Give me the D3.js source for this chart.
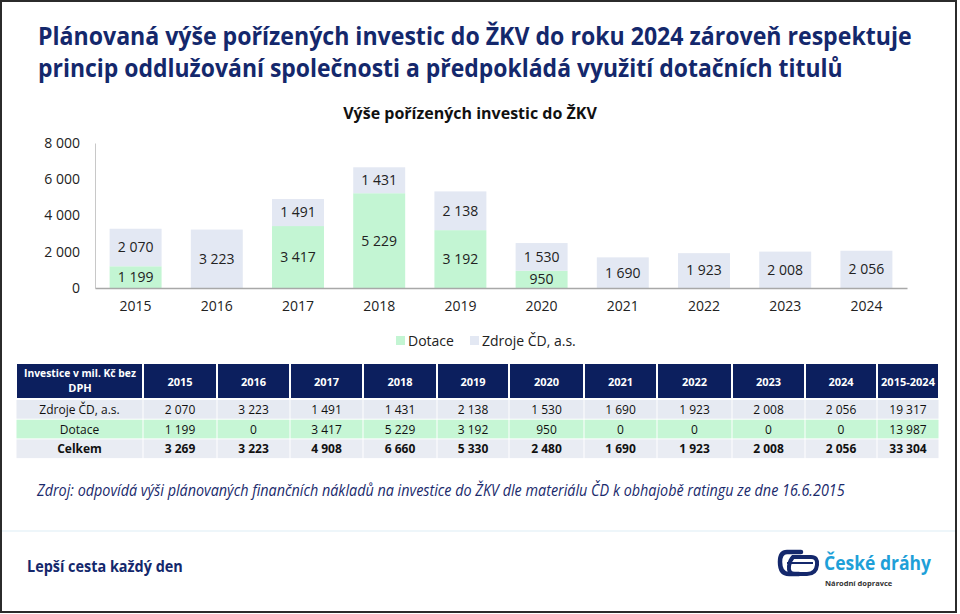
<!DOCTYPE html>
<html>
<head>
<meta charset="utf-8">
<script src="https://cdn.jsdelivr.net/npm/d3@7"></script>
<style>
  body { margin: 0; background: #fff; }
  svg { display: block; font-family: "Open Sans", "Noto Sans", sans-serif; }
</style>
</head>
<body>
<div id="main"></div>
<script>
//data
const years = ['2015', '2016', '2017', '2018', '2019', '2020', '2021', '2022', '2023', '2024'];
const dotace = [1199, 0, 3417, 5229, 3192, 950, 0, 0, 0, 0];
const zdroje = [2070, 3223, 1491, 1431, 2138, 1530, 1690, 1923, 2008, 2056];
const celkem = [3269, 3223, 4908, 6660, 5330, 2480, 1690, 1923, 2008, 2056];
const sumCol = [19317, 13987, 33304];
const yTicks = [0, 2000, 4000, 6000, 8000];
const seriesNames = ['Dotace', 'Zdroje ČD, a.s.'];

//colors
const navy = '#14286c';
const green = '#c3f5d3';
const blue = '#e3e8f3';

const W = 960, H = 614;
const fmt = d3.formatLocale({decimal: ',', thousands: '\u00a0', grouping: [3], currency: ['', '']}).format(',d');

const svg = d3.select('#main')
  .append('svg')
  .attr('width', W)
  .attr('height', H);

svg.append('rect')
  .attr('x', 1).attr('y', 1)
  .attr('width', 955).attr('height', 611)
  .attr('fill', '#fff')
  .attr('stroke', '#2b2b2b')
  .attr('stroke-width', 2);

// squeeze a text horizontally to a given width (Calibri-like narrow look)
function squeeze(sel, x0, width) {
  sel.each(function () {
    const natural = this.getComputedTextLength();
    const k = width / natural;
    d3.select(this).attr('transform', `translate(${x0}, 0) scale(${k}, 1)`).attr('x', 0);
  });
}

//title
const titleLines = [
  {t: 'Plánovaná výše pořízených investic do ŽKV do roku 2024 zároveň respektuje', y: 45, len: 874},
  {t: 'princip oddlužování společnosti a předpokládá využití dotačních titulů', y: 77, len: 805}
];
svg.selectAll('.title')
  .data(titleLines)
  .enter()
  .append('text')
  .attr('class', 'title')
  .attr('y', d => d.y)
  .style('font-size', '25px')
  .style('font-weight', 'bold')
  .attr('fill', navy)
  .text(d => d.t)
  .each(function (d) { squeeze(d3.select(this), 38, d.len); });

//chart
const margin = {top: 143, left: 95};
const w = 812, h = 145;

const x = d3.scaleBand()
  .domain(years)
  .range([0, w])
  .paddingInner(0.36)
  .paddingOuter(0.18);

const y = d3.scaleLinear()
  .domain([0, 8000])
  .range([h, 0]);

const g = svg.append('g')
  .attr('transform', `translate(${margin.left}, ${margin.top})`);

svg.append('text')
  .attr('x', 470)
  .attr('y', 119)
  .attr('text-anchor', 'middle')
  .style('font-size', '16px')
  .style('font-weight', 'bold')
  .attr('fill', '#111')
  .text('Výše pořízených investic do ŽKV');

const yAxis = d3.axisLeft(y)
  .tickValues(yTicks)
  .tickSize(0)
  .tickPadding(15)
  .tickFormat(fmt);

g.append('g')
  .attr('class', 'axis')
  .call(yAxis)
  .call(a => a.select('.domain').attr('stroke', '#c8c8c8'))
  .selectAll('text')
  .style('font-size', '14px')
  .style('font-family', '"Open Sans", sans-serif')
  .attr('fill', '#222');

const stacked = years.map((yr, i) => ({year: yr, dot: dotace[i], zdr: zdroje[i]}));

// dotace segments
g.selectAll('.bar-dot')
  .data(stacked.filter(d => d.dot > 0))
  .enter()
  .append('rect')
  .attr('class', 'bar-dot')
  .attr('x', d => x(d.year))
  .attr('y', d => y(d.dot))
  .attr('width', x.bandwidth())
  .attr('height', d => h - y(d.dot))
  .attr('fill', green);

// zdroje segments
g.selectAll('.bar-zdr')
  .data(stacked)
  .enter()
  .append('rect')
  .attr('class', 'bar-zdr')
  .attr('x', d => x(d.year))
  .attr('y', d => y(d.dot + d.zdr))
  .attr('width', x.bandwidth())
  .attr('height', d => y(d.dot) - y(d.dot + d.zdr))
  .attr('fill', blue);

g.selectAll('.lbl-dot')
  .data(stacked.filter(d => d.dot > 0))
  .enter()
  .append('text')
  .attr('x', d => x(d.year) + x.bandwidth() / 2)
  .attr('y', d => (y(0) + y(d.dot)) / 2)
  .attr('dy', '0.35em')
  .attr('text-anchor', 'middle')
  .style('font-size', '14px')
  .attr('fill', '#222')
  .text(d => fmt(d.dot));

g.selectAll('.lbl-zdr')
  .data(stacked)
  .enter()
  .append('text')
  .attr('x', d => x(d.year) + x.bandwidth() / 2)
  .attr('y', d => (y(d.dot) + y(d.dot + d.zdr)) / 2)
  .attr('dy', '0.35em')
  .attr('text-anchor', 'middle')
  .style('font-size', '14px')
  .attr('fill', '#222')
  .text(d => fmt(d.zdr));

const xAxis = d3.axisBottom(x).tickSize(0).tickPadding(13);
g.append('g')
  .attr('class', 'axis')
  .attr('transform', `translate(0, ${h})`)
  .call(xAxis)
  .call(a => a.select('.domain').attr('stroke', '#a8a8a8').attr('stroke-width', 1.5))
  .selectAll('text')
  .style('font-size', '14px')
  .style('font-family', '"Open Sans", sans-serif')
  .attr('fill', '#222');

//legend
const legend = svg.append('g').attr('transform', 'translate(396, 341)');
const legX = [0, 74];
legend.selectAll('rect')
  .data(seriesNames)
  .enter()
  .append('rect')
  .attr('x', (d, i) => legX[i])
  .attr('y', -5)
  .attr('width', 9)
  .attr('height', 9)
  .attr('fill', (d, i) => i === 0 ? green : blue);
legend.selectAll('text')
  .data(seriesNames)
  .enter()
  .append('text')
  .attr('x', (d, i) => legX[i] + 12)
  .attr('y', 0)
  .attr('dy', '0.35em')
  .style('font-size', '14px')
  .attr('fill', '#222')
  .text(d => d);

//table
const colX = [16, 143, 217, 290, 363, 437, 509, 584, 657, 732, 805, 877, 939];
const headY = 364, headH = 34, rowH = 19.7;
const tbl = svg.append('g');
const heads = ['', ...years, '2015-2024'];
tbl.selectAll('.th')
  .data(heads)
  .enter()
  .append('rect')
  .attr('x', (d, i) => colX[i] + 1)
  .attr('y', headY)
  .attr('width', (d, i) => colX[i + 1] - colX[i] - 2)
  .attr('height', headH)
  .attr('fill', '#0c1f5e');
tbl.selectAll('.tht')
  .data(heads.slice(1))
  .enter()
  .append('text')
  .attr('x', (d, i) => (colX[i + 1] + colX[i + 2]) / 2)
  .attr('y', headY + headH / 2 + 1)
  .attr('dy', '0.35em')
  .attr('text-anchor', 'middle')
  .style('font-size', '11px')
  .style('font-weight', 'bold')
  .attr('fill', '#fff')
  .text(d => d);
tbl.append('text')
  .attr('x', 80)
  .attr('y', headY + 13)
  .attr('text-anchor', 'middle')
  .attr('textLength', 112)
  .attr('lengthAdjust', 'spacingAndGlyphs')
  .style('font-size', '11px')
  .style('font-weight', 'bold')
  .attr('fill', '#fff')
  .text('Investice  v mil. Kč bez');
tbl.append('text')
  .attr('x', 80)
  .attr('y', headY + 28)
  .attr('text-anchor', 'middle')
  .style('font-size', '11px')
  .style('font-weight', 'bold')
  .attr('fill', '#fff')
  .text('DPH');

const rows = [
  {name: 'Zdroje ČD, a.s.', vals: zdroje, total: sumCol[0], fill: '#e6eaf2', bold: false},
  {name: 'Dotace', vals: dotace, total: sumCol[1], fill: '#c6f6d5', bold: false},
  {name: 'Celkem', vals: celkem, total: sumCol[2], fill: '#e9ecf3', bold: true}
];
rows.forEach((r, ri) => {
  const ry = headY + headH + 2 + ri * rowH;
  const cells = [r.name, ...r.vals.map(fmt), fmt(r.total)];
  tbl.selectAll(null)
    .data(cells)
    .enter()
    .append('rect')
    .attr('x', (d, i) => colX[i] + 0.5)
    .attr('y', ry)
    .attr('width', (d, i) => colX[i + 1] - colX[i] - 1)
    .attr('height', rowH - 1)
    .attr('fill', r.fill);
  tbl.selectAll(null)
    .data(cells)
    .enter()
    .append('text')
    .attr('x', (d, i) => (colX[i] + colX[i + 1]) / 2)
    .attr('y', ry + rowH / 2)
    .attr('dy', '0.35em')
    .attr('text-anchor', 'middle')
    .style('font-size', '12px')
    .style('font-weight', r.bold ? 'bold' : 'normal')
    .attr('fill', '#111')
    .text(d => d);
});

//source note
svg.append('text')
  .attr('y', 496)
  .style('font-size', '16px')
  .style('font-style', 'italic')
  .attr('fill', '#1a2a6c')
  .text('Zdroj: odpovídá výši plánovaných finančních nákladů na investice do ŽKV dle materiálu ČD k obhajobě ratingu ze dne 16.6.2015')
  .call(s => squeeze(s, 37, 808));

//footer
svg.append('line')
  .attr('x1', 2).attr('x2', 955)
  .attr('y1', 531).attr('y2', 531)
  .attr('stroke', '#eef6fa')
  .attr('stroke-width', 2);

svg.append('text')
  .attr('y', 572)
  .style('font-size', '16px')
  .style('font-weight', 'bold')
  .attr('fill', navy)
  .text('Lepší cesta každý den')
  .call(s => squeeze(s, 27, 156));

const logo = svg.append('g').attr('transform', 'translate(779, 550)');
logo.append('path')
  .attr('d', 'M22,2 H8 Q1,2 1,12 Q1,24 10,24 H20')
  .attr('fill', 'none')
  .attr('stroke', navy)
  .attr('stroke-width', 4.5)
  .attr('stroke-linecap', 'round');
logo.append('path')
  .attr('d', 'M14,7 H32 Q39,7 38,15 Q37,24 28,24 H16 Q9,24 10,16 Q11,10 14,7 Z')
  .attr('fill', 'none')
  .attr('stroke', navy)
  .attr('stroke-width', 4);
logo.append('path')
  .attr('d', 'M8,13 H34')
  .attr('stroke', navy)
  .attr('stroke-width', 2);
svg.append('text')
  .attr('y', 570)
  .style('font-size', '19px')
  .style('font-weight', 'bold')
  .attr('fill', '#1ea0d8')
  .text('České dráhy')
  .call(s => squeeze(s, 824, 107));
svg.append('text')
  .attr('x', 825)
  .attr('y', 586)
  .style('font-size', '7.5px')
  .style('font-weight', 'bold')
  .attr('fill', '#333')
  .text('Národní dopravce');
</script>
</body>
</html>
